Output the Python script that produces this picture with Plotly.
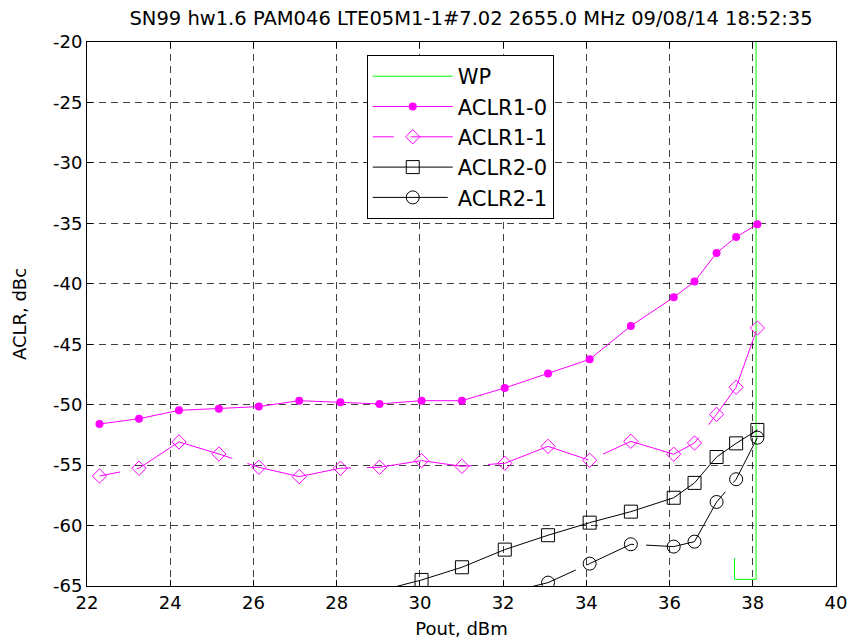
import plotly.graph_objects as go

# Output power sweep points (dBm)
pout = [22.3, 23.25, 24.21, 25.17, 26.13, 27.1, 28.09, 29.03, 30.04, 31.01,
        32.04, 33.08, 34.08, 35.07, 36.1, 36.6, 37.13, 37.6, 38.11]

# Adjacent channel leakage ratios (dBc)
aclr1_0 = [-51.6, -51.16, -50.47, -50.33, -50.16, -49.67, -49.8, -49.94, -49.67, -49.67,
           -48.62, -47.43, -46.25, -43.49, -41.12, -39.82, -37.45, -36.13, -35.08]
aclr1_1 = [-55.9, -55.26, -53.08, -54.08, -55.18, -55.95, -55.26, -55.18, -54.63, -55.1,
           -54.85, -53.45, -54.6, -53.03, -54.1, -53.17, -50.8, -48.56, -43.66]

pout2_0 = [29.03, 30.04, 31.01, 32.04, 33.08, 34.08, 35.07, 36.1, 36.6, 37.13, 37.6, 38.11]
aclr2_0 = [-65.4, -64.5, -63.45, -61.99, -60.8, -59.76, -58.85, -57.7, -56.47, -54.33, -53.2, -52.09]

pout2_1 = [32.04, 33.08, 34.08, 35.07, 36.1, 36.6, 37.13, 37.6, 38.11]
aclr2_1 = [-65.6, -64.72, -63.15, -61.55, -61.74, -61.33, -58.05, -56.17, -52.73]

# Working point marker
wp_x = [37.56, 37.56, 38.08, 38.08]
wp_y = [-62.7, -64.45, -64.45, -20]

x_ticks = list(range(22, 41, 2))
y_ticks = list(range(-65, -19, 5))

title_text = "SN99 hw1.6 PAM046 LTE05M1-1#7.02 2655.0 MHz 09/08/14 18:52:35"

Y_MIN, Y_MAX = -65, -20
MAGENTA = "#ff00ff"
dash1_1 = "21px,17px," + ",".join(["106px,16px"] * 8)
dash2_1 = "75px,12px,52px,12px,108px,12px,200px,12px"


def in_range(vals):
    """Indices of points inside the visible y range (markers outside are hidden)."""
    return [i for i, v in enumerate(vals) if Y_MIN <= v <= Y_MAX]


hidden = dict(marker=dict(opacity=0))

fig = go.Figure()
fig.add_trace(go.Scatter(x=wp_x, y=wp_y, mode="lines", name="WP",
                         line=dict(color="#00ff00", width=1)))
fig.add_trace(go.Scatter(x=pout, y=aclr1_0, mode="lines+markers", name="ACLR1-0",
                         line=dict(color=MAGENTA, width=1),
                         marker=dict(symbol="circle", size=8, color=MAGENTA)))
fig.add_trace(go.Scatter(x=pout, y=aclr1_1, mode="lines+markers", name="ACLR1-1",
                         line=dict(color=MAGENTA, width=1, dash=dash1_1),
                         marker=dict(symbol="diamond-open", size=11, color=MAGENTA,
                                     line=dict(width=1, color=MAGENTA))))
fig.add_trace(go.Scatter(x=pout2_0, y=aclr2_0, mode="lines+markers", name="ACLR2-0",
                         line=dict(color="black", width=1),
                         marker=dict(symbol="square-open", size=13, color="black",
                                     line=dict(width=1, color="black")),
                         selectedpoints=in_range(aclr2_0), unselected=hidden))
fig.add_trace(go.Scatter(x=pout2_1, y=aclr2_1, mode="lines+markers", name="ACLR2-1",
                         line=dict(color="black", width=1, dash=dash2_1),
                         marker=dict(symbol="circle-open", size=13, color="black",
                                     line=dict(width=1, color="black")),
                         selectedpoints=in_range(aclr2_1), unselected=hidden))

axis_common = dict(
    showgrid=True, gridcolor="rgba(0,0,0,0.75)", gridwidth=1, griddash="7px,5px",
    ticks="inside", ticklen=6, tickwidth=1, tickcolor="black",
    showline=True, linecolor="black", linewidth=1, mirror="ticks",
    zeroline=False, automargin=False, tickfont=dict(size=18, color="black"),
)

fig.update_layout(
    width=850, height=639,
    margin=dict(l=87, r=14, t=42, b=53),
    paper_bgcolor="white", plot_bgcolor="white",
    font=dict(family="DejaVu Sans", size=18, color="black"),
    title=dict(text=title_text, x=0.5127, xref="paper", xanchor="center",
               y=1 - 18 / 639, yref="container", yanchor="middle",
               font=dict(size=19.5, color="black")),
    xaxis=dict(range=[22, 40], tickvals=x_ticks, ticktext=[str(v) for v in x_ticks],
               title=dict(text="Pout, dBm", standoff=12, font=dict(size=18)),
               **axis_common),
    yaxis=dict(range=[Y_MIN, Y_MAX], tickvals=y_ticks, ticktext=[str(v) for v in y_ticks],
               title=dict(text="ACLR, dBc", standoff=21, font=dict(size=18)),
               **axis_common),
    legend=dict(x=0.3735, y=0.976, xanchor="left", yanchor="top",
                bgcolor="white", bordercolor="black", borderwidth=1,
                font=dict(size=21, color="black"), itemwidth=80,
                tracegroupgap=0),
    showlegend=True,
)

fig.write_html("out.html")
